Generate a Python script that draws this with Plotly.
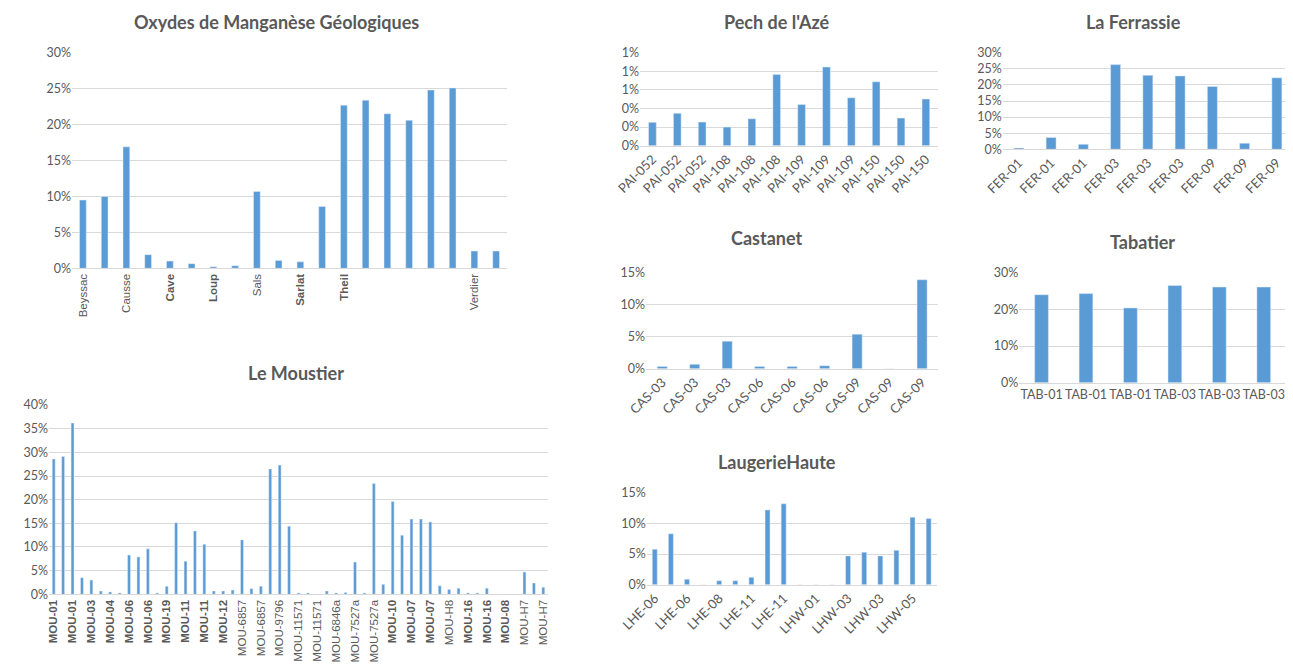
import plotly.graph_objects as go

# page body has an 8px default margin: lay out in reference pixels, shifted by it
OFF = 8
W, H = 1293 - OFF, 670 - 2 * OFF

# ---------------- DATA ----------------
oxy_values = [0.095, 0.100, 0.169, 0.019, 0.010, 0.0065, 0.002, 0.0035, 0.107, 0.011,
              0.009, 0.086, 0.227, 0.234, 0.215, 0.206, 0.248, 0.251, 0.024, 0.024]
oxy_ticks = ["Beyssac", "Causse", "Cave", "Loup", "Sals", "Sarlat", "Theil", "", "", "Verdier"]

pech_values = [0.00251, 0.00348, 0.00254, 0.0020, 0.0029, 0.00767, 0.00444, 0.00846,
               0.00516, 0.00688, 0.00297, 0.00502]
pech_ticks = ["PAI-052", "PAI-052", "PAI-052", "PAI-108", "PAI-108", "PAI-108",
              "PAI-109", "PAI-109", "PAI-109", "PAI-150", "PAI-150", "PAI-150"]

fer_values = [0.004, 0.037, 0.0155, 0.263, 0.230, 0.228, 0.195, 0.019, 0.222]
fer_ticks = ["FER-01", "FER-01", "FER-01", "FER-03", "FER-03", "FER-03",
             "FER-09", "FER-09", "FER-09"]

cas_values = [0.0036, 0.0068, 0.043, 0.0036, 0.0036, 0.0047, 0.054, 0.0, 0.139]
cas_ticks = ["CAS-03", "CAS-03", "CAS-03", "CAS-06", "CAS-06", "CAS-06",
             "CAS-09", "CAS-09", "CAS-09"]

tab_values = [0.240, 0.243, 0.204, 0.265, 0.261, 0.261]
tab_ticks = ["TAB-01", "TAB-01", "TAB-01", "TAB-03", "TAB-03", "TAB-03"]

lau_values = [0.058, 0.083, 0.009, 0.0, 0.0065, 0.0065, 0.012, 0.122, 0.132,
              0.0, 0.0, 0.0, 0.047, 0.053, 0.047, 0.056, 0.110, 0.108]
lau_ticks = ["LHE-06", "LHE-06", "LHE-08", "LHE-11", "LHE-11", "LHW-01",
             "LHW-03", "LHW-03", "LHW-05"]

mou_values = [0.286, 0.291, 0.362, 0.035, 0.030, 0.007, 0.005, 0.003, 0.083, 0.079,
              0.096, 0.003, 0.017, 0.151, 0.070, 0.134, 0.106, 0.007, 0.007, 0.009,
              0.115, 0.012, 0.017, 0.265, 0.273, 0.144, 0.003, 0.003, 0.0, 0.007,
              0.003, 0.004, 0.068, 0.003, 0.234, 0.021, 0.196, 0.125, 0.159, 0.159,
              0.153, 0.018, 0.010, 0.013, 0.003, 0.003, 0.013, 0.0, 0.0, 0.0,
              0.047, 0.024, 0.015]
mou_ticks = ["MOU-01", "MOU-01", "MOU-03", "MOU-04", "MOU-06", "MOU-06", "MOU-19",
             "MOU-11", "MOU-11", "MOU-12", "MOU-6857", "MOU-6857", "MOU-9796",
             "MOU-11571", "MOU-11571", "MOU-6846a", "MOU-7527a", "MOU-7527a",
             "MOU-10", "MOU-07", "MOU-07", "MOU-H8", "MOU-16", "MOU-16", "MOU-08",
             "MOU-H7", "MOU-H7"]

# ---------------- STYLE ----------------
BAR = "#5B9BD5"
GRID = "#D9D9D9"
TXT = "#595959"
TFONT = "Lato"
OXY_BOLD = {"Cave", "Loup", "Sarlat", "Theil"}
MOU_BOLD = {"MOU-01", "MOU-03", "MOU-04", "MOU-06", "MOU-19", "MOU-11", "MOU-12",
            "MOU-10", "MOU-07", "MOU-16", "MOU-08"}


def xd(a, b):
    return [max((a - OFF) / W, 0.0), min((b - OFF) / W, 1.0)]


def yd(top, bottom):
    return [1 - (bottom - OFF) / H, 1 - (top - OFF) / H]


fig = go.Figure()

panels = [
    dict(v=oxy_values, t=oxy_ticks, step=2, bold=OXY_BOLD, xp=(72, 507), yp=(52.7, 268.3),
         yr=0.30, dt=0.05, ang=-90, ff="Liberation Sans", fs=11.5,
         title="Oxydes de Manganèse Géologiques", tx=276, ty=22),
    dict(v=pech_values, t=pech_ticks, step=1, bold=set(), xp=(640, 938.3), yp=(52.7, 145.7),
         yr=0.01, dt=0.002, ang=-45, ff=TFONT, fs=13,
         title="Pech de l'Azé", tx=777, ty=22),
    dict(v=fer_values, t=fer_ticks, step=1, bold=set(), xp=(1002.7, 1293), yp=(52.7, 149.3),
         yr=0.30, dt=0.05, ang=-45, ff=TFONT, fs=13,
         title="La Ferrassie", tx=1133, ty=22),
    dict(v=cas_values, t=cas_ticks, step=1, bold=set(), xp=(646, 938.3), yp=(272.7, 368.7),
         yr=0.15, dt=0.05, ang=-45, ff=TFONT, fs=13,
         title="Castanet", tx=766, ty=238),
    dict(v=tab_values, t=tab_ticks, step=1, bold=set(), xp=(1019.3, 1286), yp=(272.7, 382.7),
         yr=0.30, dt=0.10, ang=0, ff=TFONT, fs=12.5,
         title="Tabatier", tx=1142, ty=242),
    dict(v=lau_values, t=lau_ticks, step=2, bold=set(), xp=(646.7, 936.7), yp=(492.7, 584.7),
         yr=0.15, dt=0.05, ang=-45, ff=TFONT, fs=13,
         title="LaugerieHaute", tx=777, ty=462),
    dict(v=mou_values, t=mou_ticks, step=2, bold=MOU_BOLD, xp=(49, 548), yp=(405, 594.3),
         yr=0.40, dt=0.05, ang=-90, ff="Liberation Sans", fs=11.5,
         title="Le Moustier", tx=296, ty=373),
]

annotations = []
for i, p in enumerate(panels):
    n = i + 1
    xa = "x" if n == 1 else f"x{n}"
    ya = "y" if n == 1 else f"y{n}"
    xs = list(range(len(p["v"])))
    fig.add_trace(go.Bar(x=xs, y=p["v"], marker_color=BAR, width=0.31,
                         xaxis=xa, yaxis=ya, showlegend=False,
                         hovertemplate="%{y:.1%}<extra></extra>"))
    tickvals = xs[::p["step"]][:len(p["t"])]
    ticktext = [f"<b>{s}</b>" if s in p["bold"] else s for s in p["t"]]
    xkey = "xaxis" if n == 1 else f"xaxis{n}"
    ykey = "yaxis" if n == 1 else f"yaxis{n}"
    fig.update_layout(**{
        xkey: dict(domain=xd(*p["xp"]), anchor=ya, range=[-0.5, len(xs) - 0.5],
                   tickmode="array", tickvals=tickvals, ticktext=ticktext,
                   tickangle=p["ang"], showgrid=False, zeroline=False,
                   showline=True, linecolor=GRID, linewidth=1, ticks="",
                   tickfont=dict(family=p["ff"], size=p["fs"], color=TXT),
                   automargin=False, fixedrange=True),
        ykey: dict(domain=yd(*p["yp"]), anchor=xa, range=[0, p["yr"] * 1.0001],
                   dtick=p["dt"], tick0=0, tickformat=".0%", showgrid=True,
                   gridcolor=GRID, gridwidth=1, zeroline=False, showline=False,
                   ticks="", tickfont=dict(family=TFONT, size=12.5, color=TXT),
                   automargin=False, fixedrange=True),
    })
    annotations.append(dict(text=f"<b>{p['title']}</b>",
                            x=(p["tx"] - OFF) / W, y=1 - (p["ty"] - OFF) / H,
                            xref="paper", yref="paper", xanchor="center", yanchor="middle",
                            showarrow=False,
                            font=dict(family=TFONT, size=18, color=TXT)))

fig.update_layout(width=W, height=H, margin=dict(l=0, r=0, t=0, b=0),
                  paper_bgcolor="white", plot_bgcolor="white",
                  annotations=annotations, bargap=0.69)

fig.write_html("out.html", config={"displayModeBar": False})
